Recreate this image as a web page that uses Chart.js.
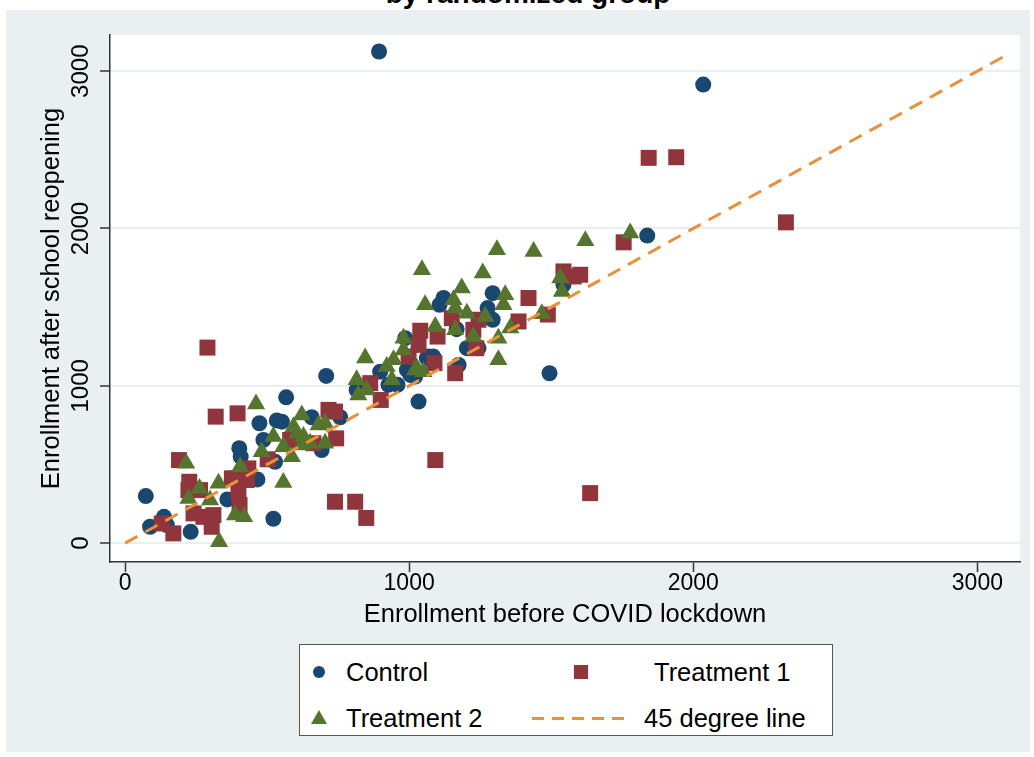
<!DOCTYPE html>
<html><head><meta charset="utf-8">
<script src="https://cdn.jsdelivr.net/npm/chart.js@4/dist/chart.umd.min.js"></script>
<style>
html,body{margin:0;padding:0;background:#fff;width:1034px;height:757px;overflow:hidden;font-family:"Liberation Sans",Arial,sans-serif;}
#bg{position:absolute;left:6px;top:10px;width:1024px;height:742px;background:#eaf0f2;}
#title{position:absolute;left:0;width:1056px;top:-20px;text-align:center;font-weight:bold;font-size:28px;line-height:28px;color:#000;white-space:nowrap;}
#wrap{position:absolute;left:0;top:0;width:1034px;height:757px;}
#legend{position:absolute;left:299px;top:644px;width:534px;height:92px;box-sizing:border-box;border:1.5px solid #555;background:#fff;font-size:25.5px;color:#000;}
.lt{position:absolute;line-height:30px;white-space:nowrap;}
.mk{position:absolute;}
</style></head>
<body>
<div id="bg"></div>
<div id="title">by randomized group</div>
<div id="wrap"><canvas id="c" width="1034" height="757"></canvas></div>
<div id="legend">
  <div class="mk" style="left:13px;top:21px;width:12px;height:12px;border-radius:50%;background:#1a476f;"></div>
  <div class="lt" style="left:46px;top:12px;">Control</div>
  <div class="mk" style="left:274px;top:20px;width:14px;height:14px;background:#90353b;"></div>
  <div class="lt" style="left:354px;top:12px;">Treatment 1</div>
  <div class="mk" style="left:11px;top:65px;width:0;height:0;border-left:8px solid transparent;border-right:8px solid transparent;border-bottom:14px solid #55752f;"></div>
  <div class="lt" style="left:46px;top:58px;">Treatment 2</div>
  <div class="mk" style="left:232px;top:72px;width:98px;height:2.5px;background:repeating-linear-gradient(to right,#e8903a 0 12px,transparent 12px 20px);"></div>
  <div class="lt" style="left:344px;top:58px;">45 degree line</div>
</div>
<script>
// ---- data ----
const tickValues = [0, 1000, 2000, 3000];

const controlX = [894,2035,1838,1494,73,88,137,147,231,360,376,402,407,466,522,473,534,487,528,708,567,552,657,757,692,815,898,927,959,992,1062,1033,1021,1085,1294,1121,1107,1276,1294,1167,1203,1244,1068,1174,1543,986,1004];
const controlY = [3125,2915,1955,1080,299,104,167,115,72,278,412,603,549,405,155,762,780,656,517,1063,927,772,800,800,592,974,1090,1006,1006,1101,1176,900,1059,1186,1589,1558,1515,1494,1420,1360,1239,1239,1186,1133,1643,1303,1069];

const treat1X = [290,319,396,190,226,223,264,129,170,241,276,311,305,376,399,403,434,428,502,716,739,743,581,663,863,900,1033,1089,1092,739,810,849,1039,1100,1420,1150,1244,1226,998,1162,1236,1385,1488,1543,1579,1602,1843,1940,2326,1755,1637];
const treat1Y = [1243,804,825,528,390,337,337,125,62,189,167,178,104,412,327,242,475,401,533,847,836,666,656,635,1017,910,1260,1144,528,263,263,160,1350,1313,1558,1430,1420,1356,1186,1080,1239,1409,1453,1727,1695,1706,2449,2453,2039,1912,318];

const treat2X = [461,215,262,223,299,329,405,387,419,331,481,522,845,815,821,851,921,945,939,980,980,1027,1050,557,593,622,605,628,651,681,704,704,587,557,622,1309,1438,1045,1259,1185,1338,1332,1056,1156,1162,1203,1268,1092,1162,1226,1314,1356,1467,1314,1532,1538,1021,1778,1620];
const treat2Y = [885,507,348,284,274,380,486,178,167,8,581,677,1176,1038,942,974,1122,1165,1038,1303,1228,1112,1090,613,740,815,698,677,635,751,762,635,549,385,624,1865,1854,1738,1717,1621,1579,1515,1515,1547,1494,1462,1441,1377,1356,1313,1303,1367,1458,1165,1685,1600,1101,1971,1922];

const lineX = [0, 3100];
const lineY = [0, 3100];

const toPts = (xs, ys) => xs.map((x, i) => ({x: x, y: ys[i]}));

const plotBg = {
  id: 'plotBg',
  beforeDraw(chart) {
    const {ctx, chartArea: a} = chart;
    ctx.save();
    ctx.fillStyle = '#ffffff';
    ctx.fillRect(a.left, a.top, a.right - a.left, a.bottom - a.top);
    ctx.restore();
  }
};

const fam = '"Liberation Sans", Arial, sans-serif';
const setTicks = s => { s.ticks = tickValues.map(v => ({value: v})); };

new Chart(document.getElementById('c'), {
  type: 'scatter',
  data: {
    datasets: [
      {label: 'Control', data: toPts(controlX, controlY), pointStyle: 'circle', pointRadius: 8,
       backgroundColor: '#1a476f', borderColor: '#1a476f', borderWidth: 0, order: 4},
      {label: 'Treatment 1', data: toPts(treat1X, treat1Y), pointStyle: 'rect', pointRadius: 11.3,
       backgroundColor: '#90353b', borderColor: '#90353b', borderWidth: 0, order: 3},
      {label: 'Treatment 2', data: toPts(treat2X, treat2Y), pointStyle: 'triangle', pointRadius: 10.5,
       backgroundColor: '#55752f', borderColor: '#55752f', borderWidth: 0, order: 2},
      {label: '45 degree line', type: 'line', data: toPts(lineX, lineY), showLine: true, pointRadius: 0,
       borderColor: '#e8903a', borderWidth: 3, borderDash: [14, 9], fill: false, order: 1}
    ]
  },
  options: {
    responsive: false, animation: false, devicePixelRatio: 1,
    layout: {padding: {left: 0, top: 35, right: 14, bottom: 120}},
    plugins: {legend: {display: false}, tooltip: {enabled: false}, title: {display: false}},
    scales: {
      x: {
        type: 'linear', min: -53, max: 3150,
        afterBuildTicks: setTicks,
        afterFit: s => { s.height = 75; },
        grid: {drawOnChartArea: false, drawTicks: true, tickLength: 10, tickColor: '#333', tickWidth: 1.5},
        border: {color: '#333', width: 1.5},
        ticks: {font: {family: fam, size: 23, lineHeight: 1}, color: '#000', padding: 0, maxRotation: 0,
                callback: v => String(v)},
        title: {display: true, text: 'Enrollment before COVID lockdown', color: '#000',
                font: {family: fam, size: 25.5, lineHeight: 1.2}, padding: {top: 0, bottom: 7}}
      },
      y: {
        type: 'linear', min: -120, max: 3230,
        afterBuildTicks: setTicks,
        afterFit: s => { s.width = 110; },
        grid: {color: '#e8eff2', lineWidth: 2, drawTicks: true, tickLength: 10, tickColor: '#333', tickWidth: 1.5},
        border: {color: '#333', width: 1.5},
        ticks: {minRotation: 90, maxRotation: 90, crossAlign: 'center', padding: -8,
                font: {family: fam, size: 24, lineHeight: 1}, color: '#000', callback: v => String(v)},
        title: {display: true, text: 'Enrollment after school reopening', color: '#000',
                font: {family: fam, size: 25.5, lineHeight: 1.2}, padding: {top: 37, bottom: 0}}
      }
    }
  },
  plugins: [plotBg]
});
</script>
</body></html>
